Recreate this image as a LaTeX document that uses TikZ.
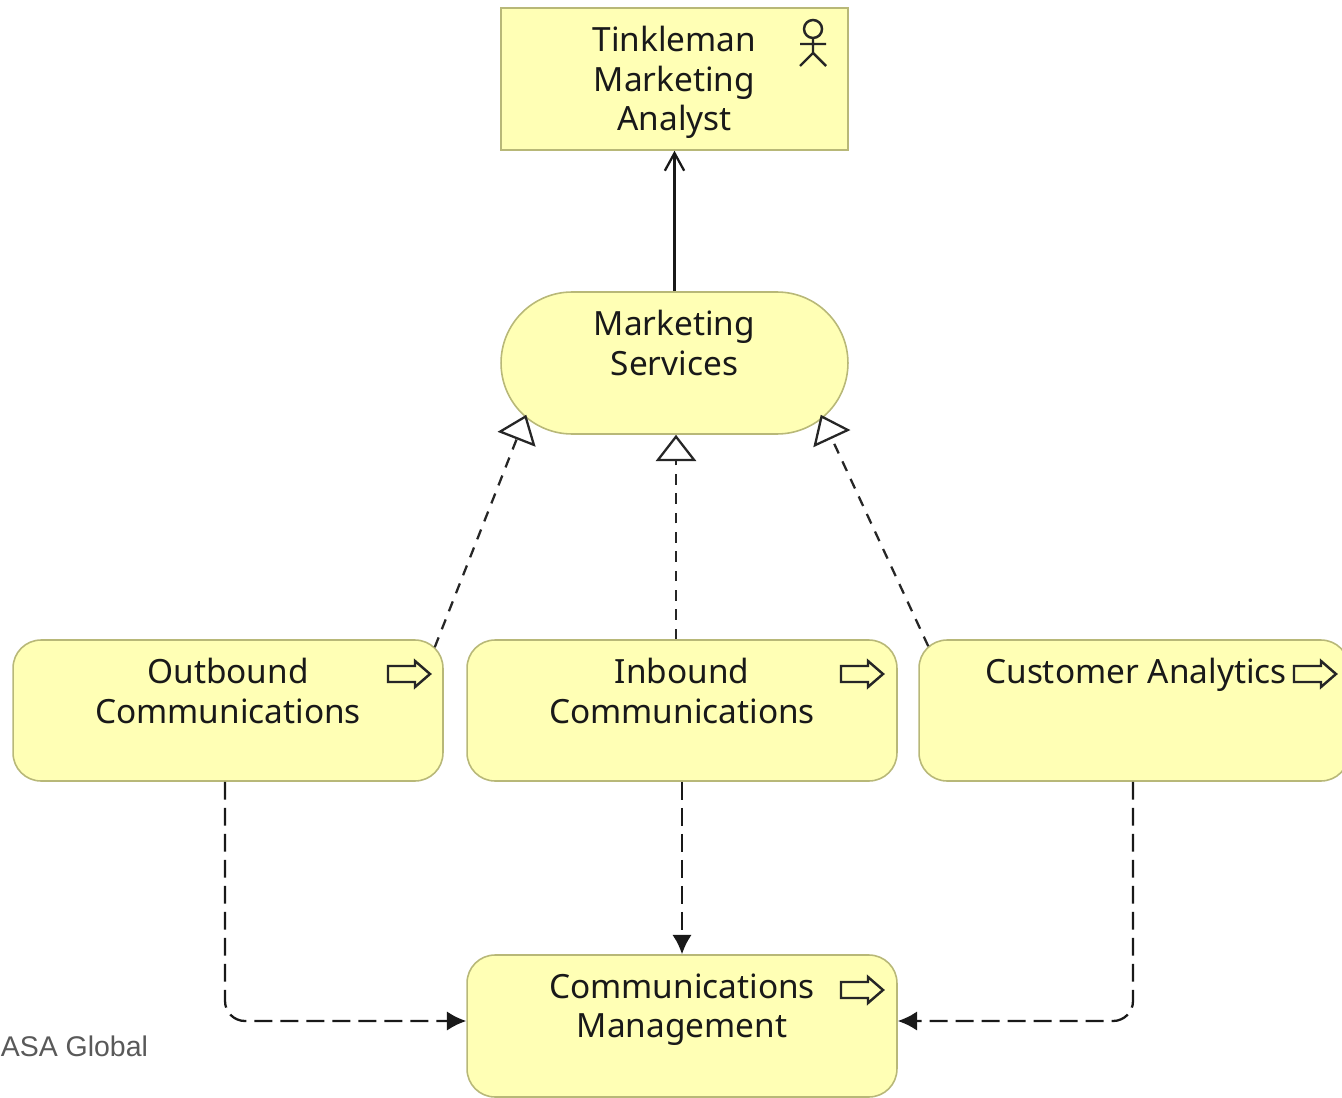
\documentclass[tikz,border=0pt]{standalone}
\usepackage{fontspec}
\setmainfont{Noto Sans}
\newfontfamily\asafont{Liberation Sans}
\usetikzlibrary{arrows.meta}

\definecolor{elemfill}{RGB}{255,255,181}
\definecolor{elemline}{RGB}{184,184,120}
\definecolor{asagray}{RGB}{89,89,89}

\tikzset{
    elem/.style={draw=elemline, fill=elemfill, line width=0.9pt, inner sep=0pt,
        minimum width=8.6cm, minimum height=2.82cm, rounded corners=0.56cm},
    elemtext/.style={anchor=north, align=center, inner sep=0pt, text=black!90,
        font=\fontsize{19}{22.4}\selectfont},
    icon/.style={line width=1.4pt, black!85},
    realizes/.style={line width=1.3pt, black!85, dash pattern=on 6pt off 5pt,
        -{Triangle[open, length=15pt, width=23pt, fill=white]}},
    flows/.style={line width=1.3pt, black!90, dash pattern=on 10.2pt off 4.6pt,
        rounded corners=0.4cm, -{Latex[length=11pt, width=11pt]}},
}

\begin{document}
\begin{tikzpicture}[x=0.02cm, y=-0.02cm]
    \useasboundingbox (0,0) rectangle (1342,1098);

    % elements
    \node[elem, rounded corners=0pt, minimum width=6.94cm, minimum height=2.84cm] (analyst) at (674.5,79) {};
    \node[elem, rounded corners=1.42cm, minimum width=6.94cm, minimum height=2.84cm] (services) at (674.5,363) {};
    \node[elem] (outbound) at (228,710.5) {};
    \node[elem] (inbound) at (682,710.5) {};
    \node[elem] (customer) at (1134,710.5) {};
    \node[elem, minimum height=2.84cm] (commMgmt) at (682,1026) {};

    % labels
    \node[elemtext] (analystText) at ([yshift=-0.38cm]analyst.north) {Tinkleman\\Marketing\\Analyst};
    \node[elemtext] (servicesText) at ([yshift=-0.38cm]services.north) {Marketing\\Services};
    \node[elemtext] (outboundText) at ([yshift=-0.38cm]outbound.north) {Outbound\\Communications};
    \node[elemtext] (inboundText) at ([yshift=-0.38cm]inbound.north) {Inbound\\Communications};
    \node[elemtext] (customerText) at ([shift={(2,19)}]customer.north) {Customer Analytics};
    \node[elemtext] (commMgmtText) at ([yshift=-0.38cm]commMgmt.north) {Communications\\Management};
    \node[anchor=west, inner sep=0pt, text=asagray, font=\asafont\fontsize{16.2}{20}\selectfont] (asaLabel) at (0.5,1046) {ASA Global};

    % actor icon
    \draw[icon] (813,29) circle (9);
    \draw[icon] (813,38) -- (813,53) (800,44) -- (826,44) (800,66) -- (813,53) -- (826,66);

    % service arrow icons
    \foreach \ax/\ay in {388/674, 841/674, 1294/674, 841/990}{
        \draw[icon, line join=miter] (\ax,\ay-8) -- (\ax+27,\ay-8) -- (\ax+27,\ay-13) -- (\ax+42,\ay)
            -- (\ax+27,\ay+13) -- (\ax+27,\ay+8) -- (\ax,\ay+8) -- cycle;
    }

    % connectors
    \draw[line width=1.3pt, black!90, -{Straight Barb[length=10pt, width=11pt]}] (services) -- (analyst);
    \draw[realizes] ([shift={(-9,8)}]outbound.north east) -- ([shift={(26,-20)}]services.south west);
    \draw[realizes] ([shift={(1.5,0)}]inbound.north -| services.south) -- ([shift={(1.5,0)}]services.south);
    \draw[realizes] ([shift={(10,7)}]customer.north west) -- ([shift={(-28,-20)}]services.south east);
    \draw[flows] (inbound) -- (commMgmt);
    \draw[flows] ([shift={(-3,0)}]outbound.south) |- ([shift={(0,-5)}]commMgmt.west);
    \draw[flows] ([shift={(-1,0)}]customer.south) |- ([shift={(0,-5)}]commMgmt.east);
\end{tikzpicture}
\end{document}
